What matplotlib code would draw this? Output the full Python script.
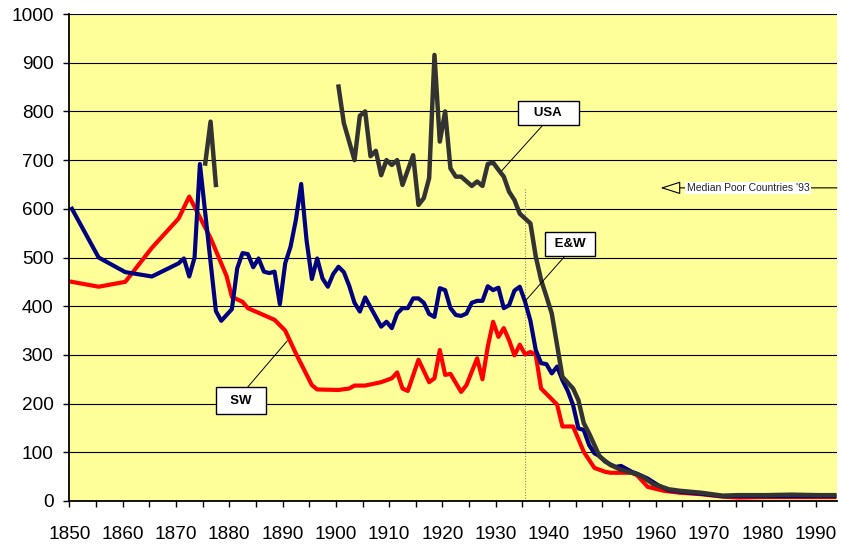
import numpy as np
import matplotlib.pyplot as plt

plt.rcParams['font.family'] = ['Liberation Sans', 'DejaVu Sans']

# SW (red)
sw_years = [1850, 1855, 1860, 1865, 1870, 1872, 1876, 1879, 1880, 1882, 1883, 1888, 1890,
            1892, 1895, 1896, 1900, 1902, 1903, 1905, 1908, 1910, 1911, 1912, 1913, 1915,
            1917, 1918, 1919, 1920, 1921, 1923, 1924, 1926, 1927, 1928, 1929, 1930, 1931,
            1932, 1933, 1934, 1935, 1936, 1937, 1938, 1941, 1942, 1944, 1946, 1948, 1950,
            1951, 1955, 1956, 1958, 1961, 1964, 1968, 1972, 1975, 1980, 1985, 1990, 1993]
sw_vals = [450, 440, 450, 520, 580, 625, 540, 462, 419, 409, 396, 372, 350,
           303, 238, 229, 228, 231, 237, 237, 244, 252, 264, 231, 226, 290,
           244, 252, 310, 259, 261, 224, 238, 293, 250, 317, 368, 337, 355,
           330, 299, 321, 301, 306, 300, 231, 198, 153, 153, 101, 68, 60,
           58, 58, 53, 29, 21, 17, 14, 9, 7, 8, 8, 8, 8]

# E&W (blue)
ew_years = [1850, 1855, 1860, 1865, 1870, 1871, 1872, 1873, 1874, 1877, 1878, 1880, 1881,
            1882, 1883, 1884, 1885, 1886, 1887, 1888, 1889, 1890, 1891, 1892, 1893, 1894,
            1895, 1896, 1897, 1898, 1899, 1900, 1901, 1902, 1903, 1904, 1905, 1906, 1907,
            1908, 1909, 1910, 1911, 1912, 1913, 1914, 1915, 1916, 1917, 1918, 1919, 1920,
            1921, 1922, 1923, 1924, 1925, 1926, 1927, 1928, 1929, 1930, 1931, 1932, 1933,
            1934, 1935, 1936, 1937, 1938, 1939, 1940, 1941, 1942, 1943, 1944, 1945, 1946,
            1947, 1948, 1949, 1950, 1951, 1952, 1953, 1954, 1955, 1956, 1958, 1960, 1962,
            1965, 1968, 1972, 1975, 1980, 1985, 1990, 1993]
ew_vals = [600, 500, 470, 461, 488, 498, 461, 500, 692, 390, 370, 394, 478,
           509, 507, 480, 498, 471, 468, 471, 404, 488, 522, 577, 651, 536,
           456, 498, 457, 440, 466, 481, 470, 442, 407, 389, 418, 398, 378,
           358, 368, 355, 385, 396, 396, 416, 416, 407, 384, 378, 437, 433,
           396, 382, 380, 385, 407, 411, 411, 441, 433, 438, 396, 402, 432,
           440, 409, 370, 310, 283, 281, 262, 276, 248, 226, 197, 149, 146,
           115, 98, 92, 81, 75, 70, 72, 66, 60, 56, 46, 32, 22,
           18, 15, 10, 10, 10, 10, 10, 10]

# USA (dark grey), gap between 1877 and 1900
usa_years = [1875, 1876, 1877, 1890, 1900, 1901, 1903, 1904, 1905, 1906, 1907, 1908, 1909,
             1910, 1911, 1912, 1914, 1915, 1916, 1917, 1918, 1919, 1920, 1921, 1922, 1923,
             1925, 1926, 1927, 1928, 1929, 1930, 1931, 1932, 1933, 1934, 1936, 1937, 1938,
             1939, 1940, 1941, 1942, 1944, 1945, 1946, 1947, 1949, 1951, 1953, 1956, 1957,
             1959, 1962, 1964, 1968, 1972, 1975, 1980, 1985, 1990, 1993]
usa_vals = [693, 779, 649, np.nan, 851, 776, 700, 791, 800, 708, 719, 669, 700,
            690, 700, 649, 710, 608, 622, 663, 916, 738, 800, 683, 666, 666,
            647, 656, 647, 692, 695, 680, 666, 635, 618, 590, 570, 502, 454,
            420, 385, 320, 255, 231, 207, 160, 139, 91, 74, 64, 55, 50,
            35, 24, 21, 17, 11, 12, 12, 13, 12, 12]

poor_median = 643
marker_year = 1935

yellow = '#FFFF99'

fig = plt.figure(figsize=(8.45, 5.47), dpi=100)
ax = fig.add_axes([0.082, 0.0841, 0.9085, 0.8903])
ax.set_facecolor(yellow)

# Excel puts the points in the middle of each year slot
off = 0.5
ax.plot(np.array(sw_years) + off, sw_vals, color='#FF0000', lw=3, solid_joinstyle='round', zorder=3)
ax.plot(np.array(ew_years) + off, ew_vals, color='#000080', lw=3, solid_joinstyle='round', zorder=4)
ax.plot(np.array(usa_years) + off, usa_vals, color='#333333', lw=3.2, solid_joinstyle='round', zorder=5)

ax.vlines(marker_year + off, 0, poor_median, colors='#888866', linestyles=(0, (1, 1.5)), lw=0.8, zorder=2)

ax.set_xlim(1850, 1994)
ax.set_ylim(0, 1000)
ax.set_yticks(range(0, 1001, 100))
ax.set_xticks(range(1850, 1995, 5))
ax.set_xticklabels([str(y) if y % 10 == 0 else '' for y in range(1850, 1995, 5)])
ax.grid(axis='y', color='black', lw=0.8, zorder=1)
ax.set_axisbelow(True)

ax.spines['top'].set_visible(False)
ax.spines['right'].set_visible(False)
ax.spines['left'].set_linewidth(1.3)
ax.spines['bottom'].set_linewidth(1.3)
ax.tick_params(axis='x', direction='out', length=4.3, width=1, pad=14, labelsize=13.7)
ax.tick_params(axis='y', direction='out', length=4.3, width=1, pad=7, labelsize=13.7)

box = dict(boxstyle='square,pad=0.45', fc='white', ec='black', lw=1)
ax.annotate('   USA   ', xy=(1931.1, 678), xytext=(1939.8, 796), fontsize=9.5, fontweight='bold',
            ha='center', va='center', bbox=box, zorder=6,
            arrowprops=dict(arrowstyle='-', color='black', lw=0.7, relpos=(0.5, 0), shrinkA=0, shrinkB=0))
ax.annotate(' E&W ', xy=(1935.4, 409), xytext=(1944.0, 528), fontsize=9.5, fontweight='bold',
            ha='center', va='center', bbox=box, zorder=6,
            arrowprops=dict(arrowstyle='-', color='black', lw=0.7, relpos=(0.5, 0), shrinkA=0, shrinkB=0))
ax.annotate('  SW  ', xy=(1890.9, 329), xytext=(1882.25, 206), fontsize=9.5, fontweight='bold',
            ha='center', va='center', bbox=dict(boxstyle='square,pad=0.55', fc='white', ec='black', lw=1),
            zorder=6,
            arrowprops=dict(arrowstyle='-', color='black', lw=0.7, relpos=(0.5, 1), shrinkA=0, shrinkB=0))

ax.annotate('', xy=(1960.9, poor_median), xytext=(1994, poor_median), zorder=6,
            arrowprops=dict(arrowstyle='-|>,head_length=1.25,head_width=0.4', fc=yellow, ec='black',
                            lw=0.8, shrinkA=0, shrinkB=0))
ax.text(1977.3, poor_median, "Median Poor Countries '93", fontsize=7.5, color='#222222',
        ha='center', va='center', zorder=7, bbox=dict(fc='white', ec='none', pad=1))

fig.savefig('out.png', dpi=100)
